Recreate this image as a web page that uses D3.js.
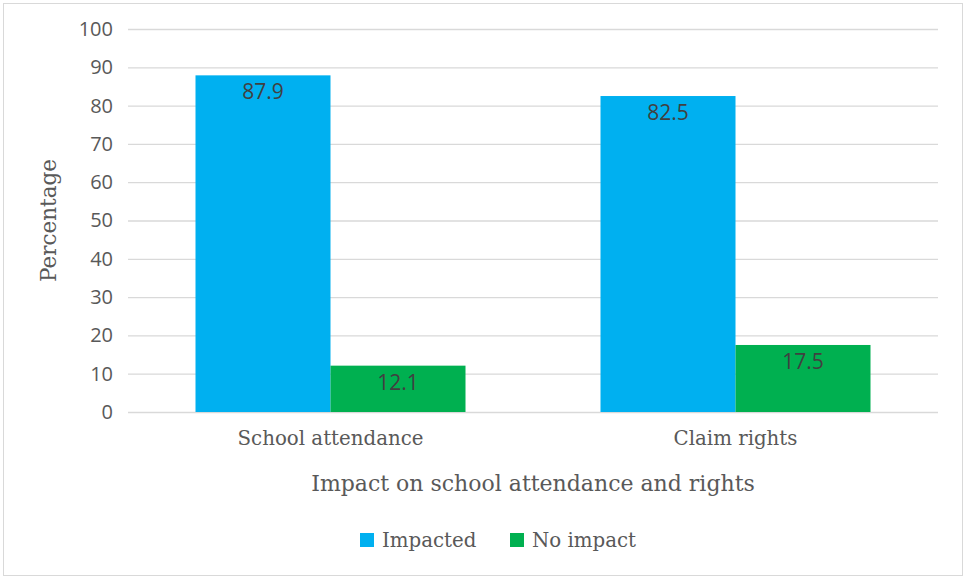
<!DOCTYPE html>
<html>
<head>
<meta charset="utf-8">
<script src="https://cdn.jsdelivr.net/npm/d3@7"></script>
<style>
  html, body { margin: 0; padding: 0; background: #fff; }
  svg { display: block; }
</style>
</head>
<body>
<svg id="chart" width="964" height="577"></svg>
<script>
// Chart data
const categories = ["School attendance", "Claim rights"];
const seriesNames = ["Impacted", "No impact"];
const impacted = [87.9, 82.5];
const noImpact = [12.1, 17.5];
const yTicks = [0, 10, 20, 30, 40, 50, 60, 70, 80, 90, 100];
const colors = ["#00B0F0", "#00B050"];

const seriesValues = [impacted, noImpact];
const rows = categories.map((c, i) => ({
  category: c,
  values: seriesNames.map((s, j) => ({ series: s, value: seriesValues[j][i], idx: j }))
}));

const svg = d3.select("#chart");
const W = 964, H = 577;
const margin = { left: 128, right: 26, top: 29, bottom: 165 };

// Outer frame
svg.append("rect")
  .attr("x", 3.5).attr("y", 3.5)
  .attr("width", W - 5).attr("height", H - 5)
  .attr("fill", "#fff").attr("stroke", "#d9d9d9").attr("stroke-width", 1);

const x0 = d3.scaleBand()
  .domain(categories)
  .range([margin.left, W - margin.right])
  .paddingInner(1 / 3).paddingOuter(1 / 6);

const x1 = d3.scaleBand()
  .domain(seriesNames)
  .range([0, x0.bandwidth()]);

const y = d3.scaleLinear()
  .domain([0, 100])
  .range([H - margin.bottom, margin.top]);

const sansFont = "'Open Sans', 'Noto Sans', sans-serif";
const serifFont = "'DejaVu Serif', serif";

// Gridlines and y tick labels
const yAxis = d3.axisLeft(y).tickValues(yTicks)
  .tickSize(-(W - margin.left - margin.right))
  .tickPadding(15);

const gy = svg.append("g")
  .attr("transform", `translate(${margin.left},0)`)
  .call(yAxis);
gy.select(".domain").remove();
gy.selectAll(".tick line").attr("stroke", "#d9d9d9").attr("stroke-width", 1.3);
gy.selectAll(".tick text")
  .attr("fill", "#595959")
  .style("font-family", sansFont)
  .style("font-size", "20px");

// Bars
const groups = svg.append("g").selectAll("g")
  .data(rows).join("g")
  .attr("transform", d => `translate(${x0(d.category)},0)`);

groups.selectAll("rect")
  .data(d => d.values).join("rect")
  .attr("x", d => x1(d.series))
  .attr("y", d => y(d.value))
  .attr("width", x1.bandwidth())
  .attr("height", d => y(0) - y(d.value))
  .attr("fill", d => colors[d.idx]);

// Value labels inside bar ends
groups.selectAll("text")
  .data(d => d.values).join("text")
  .attr("x", d => x1(d.series) + x1.bandwidth() / 2)
  .attr("y", d => y(d.value) + 24)
  .attr("text-anchor", "middle")
  .attr("fill", "#404040")
  .style("font-family", sansFont)
  .style("font-size", "21px")
  .text(d => d.value.toFixed(1));

// Category labels
const gx = svg.append("g")
  .attr("transform", `translate(0,${y(0)})`)
  .call(d3.axisBottom(x0).tickSize(0).tickPadding(19));
gx.select(".domain").remove();
gx.selectAll(".tick text")
  .attr("fill", "#595959")
  .style("font-family", serifFont)
  .style("font-size", "19.8px");

// Axis titles
svg.append("text")
  .attr("x", 533)
  .attr("y", 491)
  .attr("text-anchor", "middle")
  .attr("fill", "#595959")
  .style("font-family", serifFont)
  .style("font-size", "22px")
  .text("Impact on school attendance and rights");

svg.append("text")
  .attr("transform", `translate(56,${(y(0) + y(100)) / 2}) rotate(-90)`)
  .attr("text-anchor", "middle")
  .attr("fill", "#595959")
  .style("font-family", serifFont)
  .style("font-size", "21.5px")
  .text("Percentage");

// Legend
const legendItems = [
  { name: seriesNames[0], color: colors[0], x: 360 },
  { name: seriesNames[1], color: colors[1], x: 510 }
];
const lg = svg.append("g").selectAll("g")
  .data(legendItems).join("g")
  .attr("transform", d => `translate(${d.x},533)`);
lg.append("rect")
  .attr("width", 14).attr("height", 14)
  .attr("fill", d => d.color);
lg.append("text")
  .attr("x", 22).attr("y", 14)
  .attr("fill", "#595959")
  .style("font-family", serifFont)
  .style("font-size", "19.8px")
  .text(d => d.name);
</script>
</body>
</html>
